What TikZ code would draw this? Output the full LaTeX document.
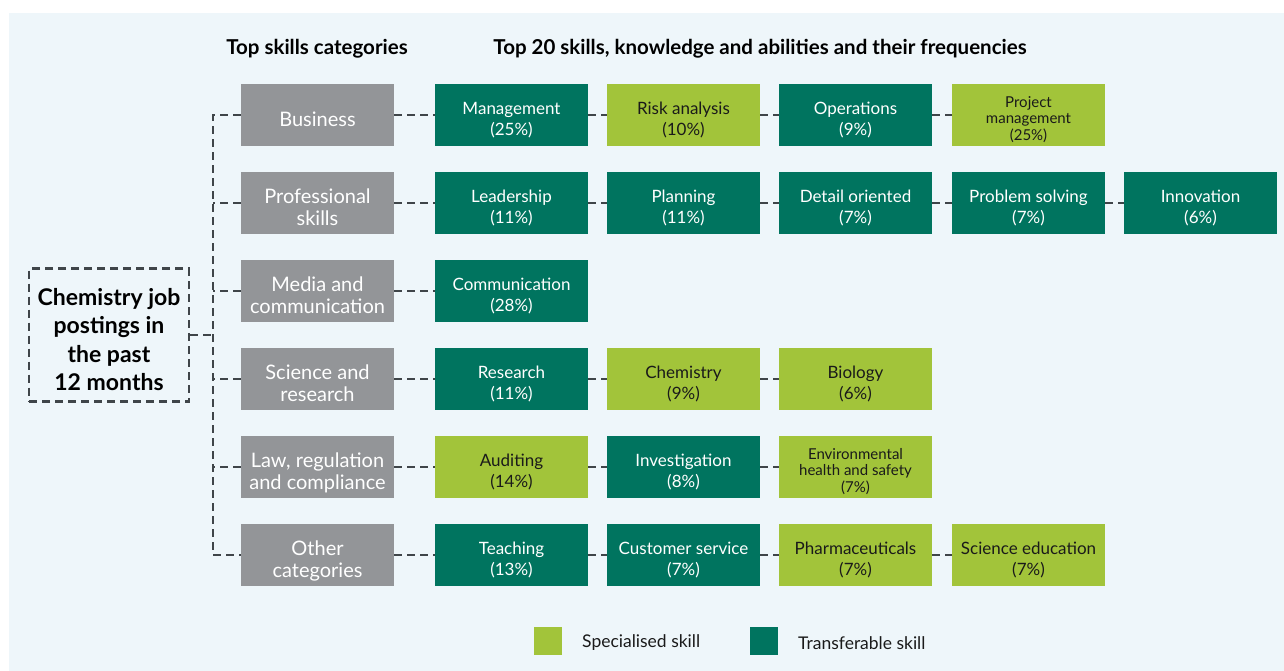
\documentclass[tikz,border=0pt]{standalone}
\usepackage{fontspec}
\setmainfont{Lato}
\definecolor{bgc}{HTML}{EEF6FA}
\definecolor{teal}{HTML}{00745F}
\definecolor{lime}{HTML}{A2C43A}
\definecolor{greyc}{HTML}{939598}
\definecolor{linec}{HTML}{3F4549}
\definecolor{txt}{HTML}{1A1A1A}
\tikzset{
  box/.style={minimum width=153pt, minimum height=62pt, inner sep=0pt},
  cat/.style={box, fill=greyc},
  tsk/.style={box, fill=teal},
  ssk/.style={box, fill=lime},
  ssksmall/.style={box, fill=lime},
  lbl/.style={inner sep=0pt, align=center},
  cattxt/.style={lbl, text=white, font=\fontsize{20}{22}\selectfont, yshift=-7.3pt},
  tsktxt/.style={lbl, text=white, font=\fontsize{17}{21}\selectfont, yshift=-6pt},
  ssktxt/.style={lbl, text=txt, font=\fontsize{17}{21}\selectfont, yshift=-6pt},
  ssksmalltxt/.style={lbl, text=txt, font=\fontsize{15}{16.5}\selectfont, yshift=-5.3pt},
  conn/.style={draw=linec, line width=2.8pt, dash pattern=on 8pt off 5pt},
  hdr/.style={font=\bfseries\fontsize{20.5}{24}\selectfont, text=black, inner sep=0pt},
  leg/.style={font=\fontsize{17.5}{20}\selectfont, text=txt, anchor=west, inner sep=0pt},
}
\newcommand\skbox[5]{%
  \node[#2] (#1) at (#3,#4) {};
  \node[#2txt] (#1t) at (#1.center) {\strut #5\strut};}
\begin{document}
\begin{tikzpicture}[x=1pt,y=-1pt]
\useasboundingbox (0,0) rectangle (1284,671);
\fill[white] (0,0) rectangle (1284,671);
\fill[bgc] (9,13) rectangle (1284,671);
% headers
\node[hdr] (h1) at (317,49) {Top skills categories};
\node[hdr] (h2) at (760,49) {Top 20 skills, knowledge and abilities and their frequencies};
% root
\node[draw=linec, line width=2.8pt, dash pattern=on 8pt off 5pt, minimum width=160pt, minimum height=133pt, inner sep=0pt] (root) at (109,335) {};
\node[lbl, font=\bfseries\fontsize{23}{28.5}\selectfont, text=black, yshift=-7.3pt] (roott) at (root.center) {\strut Chemistry job\\postings in\\the past\\12 months\strut};
% categories
\skbox{c1}{cat}{317.5}{115}{Business}
\skbox{c2}{cat}{317.5}{203}{Professional\\skills}
\skbox{c3}{cat}{317.5}{291}{Media and\\communication}
\skbox{c4}{cat}{317.5}{379}{Science and\\research}
\skbox{c5}{cat}{317.5}{467}{Law, regulation\\and compliance}
\skbox{c6}{cat}{317.5}{555}{Other\\categories}
% row 1
\skbox{s11}{tsk}{511.5}{115}{Management\\(25\%)}
\skbox{s12}{ssk}{683.5}{115}{Risk analysis\\(10\%)}
\skbox{s13}{tsk}{855.5}{115}{Operations\\(9\%)}
\skbox{s14}{ssksmall}{1028.5}{115}{Project\\management\\(25\%)}
% row 2
\skbox{s21}{tsk}{511.5}{203}{Leadership\\(11\%)}
\skbox{s22}{tsk}{683.5}{203}{Planning\\(11\%)}
\skbox{s23}{tsk}{855.5}{203}{Detail oriented\\(7\%)}
\skbox{s24}{tsk}{1028.5}{203}{Problem solving\\(7\%)}
\skbox{s25}{tsk}{1200.5}{203}{Innovation\\(6\%)}
% row 3
\skbox{s31}{tsk}{511.5}{291}{Communication\\(28\%)}
% row 4
\skbox{s41}{tsk}{511.5}{379}{Research\\(11\%)}
\skbox{s42}{ssk}{683.5}{379}{Chemistry\\(9\%)}
\skbox{s43}{ssk}{855.5}{379}{Biology\\(6\%)}
% row 5
\skbox{s51}{ssk}{511.5}{467}{Auditing\\(14\%)}
\skbox{s52}{tsk}{683.5}{467}{Investigation\\(8\%)}
\skbox{s53}{ssksmall}{855.5}{467}{Environmental\\health and safety\\(7\%)}
% row 6
\skbox{s61}{tsk}{511.5}{555}{Teaching\\(13\%)}
\skbox{s62}{tsk}{683.5}{555}{Customer service\\(7\%)}
\skbox{s63}{ssk}{855.5}{555}{Pharmaceuticals\\(7\%)}
\skbox{s64}{ssk}{1028.5}{555}{Science education\\(7\%)}
% trunk
\coordinate (ttop) at (213,115);
\coordinate (tbot) at (213,555);
\coordinate (tmid) at (213,335);
\draw[conn] (c1.west) -- (ttop) -- (tbot) -- (c6.west);
\draw[conn] (root.east) -- (tmid);
\foreach \c in {c2,c3,c4,c5}{\draw[conn] (\c.west) -- (\c.west -| ttop);}
% row connectors
\draw[conn] (c1) -- (s11) (s11) -- (s12) (s12) -- (s13) (s13) -- (s14);
\draw[conn] (c2) -- (s21) (s21) -- (s22) (s22) -- (s23) (s23) -- (s24) (s24) -- (s25);
\draw[conn] (c3) -- (s31);
\draw[conn] (c4) -- (s41) (s41) -- (s42) (s42) -- (s43);
\draw[conn] (c5) -- (s51) (s51) -- (s52) (s52) -- (s53);
\draw[conn] (c6) -- (s61) (s61) -- (s62) (s62) -- (s63) (s63) -- (s64);
% legend
\node[fill=lime, minimum size=28pt, inner sep=0pt] (l1) at (548,641) {};
\node[leg] (l1t) at (582,643) {Specialised skill};
\node[fill=teal, minimum size=28pt, inner sep=0pt] (l2) at (764,641) {};
\node[leg] (l2t) at (798,643) {Transferable skill};
\end{tikzpicture}
\end{document}
